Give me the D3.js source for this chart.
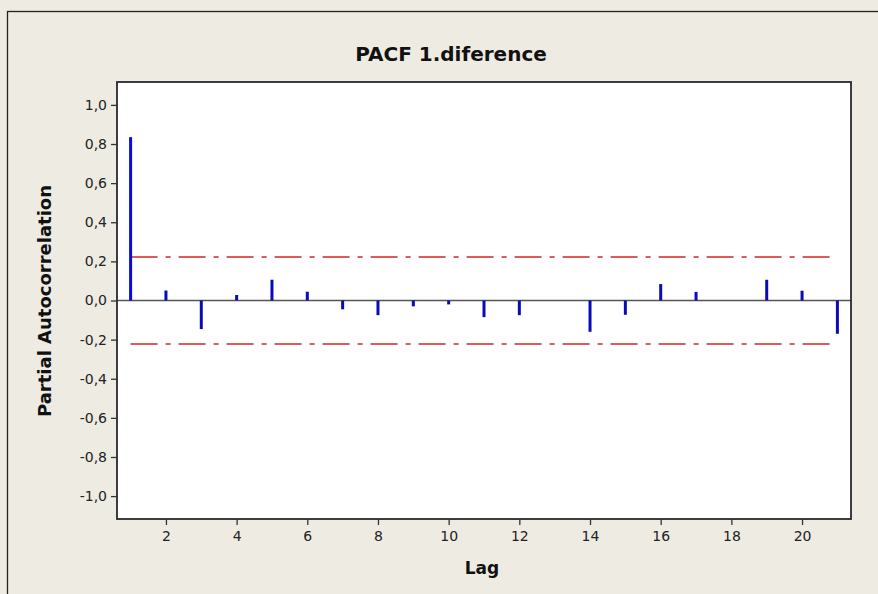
<!DOCTYPE html>
<html><head><meta charset="utf-8">
<script src="https://cdn.jsdelivr.net/npm/d3@7"></script>
<style>
html,body{margin:0;padding:0;background:#eeebe3;}
svg{display:block;}
</style></head>
<body>
<script>
const lags = [1,2,3,4,5,6,7,8,9,10,11,12,13,14,15,16,17,18,19,20,21];
const pacf = [0.835,0.051,-0.146,0.028,0.106,0.045,-0.045,-0.075,-0.03,-0.02,-0.085,-0.075,0.0,-0.16,-0.073,0.084,0.044,0.0,0.106,0.05,-0.17];
const confLimit = [0.222,-0.222];
const yTicks = [-1.0,-0.8,-0.6,-0.4,-0.2,0.0,0.2,0.4,0.6,0.8,1.0];
const xTicks = [2,4,6,8,10,12,14,16,18,20];
const title = "PACF 1.diference";
const xLabel = "Lag";
const yLabel = "Partial Autocorrelation";

const W = 878, H = 594;
const plot = {l:117, t:82, r:851, b:519};
const svg = d3.select("body").append("svg").attr("width",W).attr("height",H);
svg.append("rect").attr("width",W).attr("height",H).attr("fill","#eeebe3");
// outer frame
svg.append("rect").attr("x",7.5).attr("y",11.5).attr("width",W+20).attr("height",H+20)
  .attr("fill","none").attr("stroke","#222").attr("stroke-width",1.3);

const x = d3.scaleLinear().domain([0.615,21.385]).range([plot.l,plot.r]);
const y = d3.scaleLinear().domain([-1.117,1.117]).range([plot.b,plot.t]);

svg.append("rect").attr("x",plot.l).attr("y",plot.t).attr("width",plot.r-plot.l).attr("height",plot.b-plot.t)
  .attr("fill","#fff");

// confidence lines
svg.selectAll("line.conf").data(confLimit).enter().append("line")
  .attr("x1",x(1)).attr("x2",x(21)).attr("y1",d=>y(d)).attr("y2",d=>y(d))
  .attr("stroke","#dd2222").attr("stroke-width",1.5).attr("stroke-dasharray","27,8,5,8");

// zero line
svg.append("line").attr("x1",plot.l).attr("x2",plot.r).attr("y1",y(0)).attr("y2",y(0))
  .attr("stroke","#555").attr("stroke-width",1.5);

// bars
svg.selectAll("line.bar").data(lags.map((l,i)=>({l,v:pacf[i]}))).enter().append("line")
  .attr("x1",d=>x(d.l)).attr("x2",d=>x(d.l)).attr("y1",y(0)).attr("y2",d=>y(d.v))
  .attr("stroke",(d,i)=>i===0?"#0808e0":"#0a0ab8").attr("stroke-width",3);

// plot frame
svg.append("rect").attr("x",plot.l).attr("y",plot.t).attr("width",plot.r-plot.l).attr("height",plot.b-plot.t)
  .attr("fill","none").attr("stroke","#2a2a2a").attr("stroke-width",1.8);

const fmt = d=>d3.format(".1f")(d).replace(".",",").replace("−","-");
const yAxis = svg.append("g").attr("transform",`translate(${plot.l},0)`)
  .call(d3.axisLeft(y).tickValues(yTicks).tickFormat(fmt).tickSize(6).tickPadding(4));
const xAxis = svg.append("g").attr("transform",`translate(0,${plot.b})`)
  .call(d3.axisBottom(x).tickValues(xTicks).tickSize(6).tickPadding(6));
[yAxis,xAxis].forEach(a=>{
  a.select(".domain").remove();
  a.selectAll(".tick line").attr("stroke","#333").attr("stroke-width",1.3);
  a.selectAll(".tick text").attr("fill","#222").style("font-family","'DejaVu Sans', Verdana, sans-serif").style("font-size","14px");
});

svg.append("text").attr("x",451).attr("y",61).attr("text-anchor","middle")
  .style("font-family","'DejaVu Sans', Verdana, sans-serif").style("font-weight","bold").style("font-size","20px")
  .attr("fill","#111").text(title);
svg.append("text").attr("x",482).attr("y",574).attr("text-anchor","middle")
  .style("font-family","'DejaVu Sans', Verdana, sans-serif").style("font-weight","bold").style("font-size","17px")
  .attr("fill","#111").text(xLabel);
svg.append("text").attr("transform","translate(51,301) rotate(-90)").attr("text-anchor","middle")
  .attr("textLength",232).attr("lengthAdjust","spacingAndGlyphs")
  .style("font-family","'DejaVu Sans', Verdana, sans-serif").style("font-weight","bold").style("font-size","17px")
  .attr("fill","#111").text(yLabel);
</script>
</body></html>
